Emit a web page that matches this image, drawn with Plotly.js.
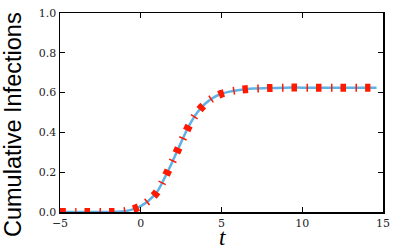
<!DOCTYPE html>
<html>
<head>
<meta charset="utf-8">
<script src="https://cdn.plot.ly/plotly-3.0.1.min.js"></script>
<style>html,body{margin:0;padding:0;background:#fff;}#chart{width:400px;height:247px;}</style>
</head>
<body>
<div id="chart"></div>
<script>
// time points (t) and cumulative infections
var tValues = [-5, -4, -3, -2, -1.5, -1, -0.5, 0, 0.5, 1, 1.5, 2, 2.5, 3, 3.5, 4, 4.5, 5, 5.5, 6, 6.5, 7, 8, 9, 10, 11, 12, 13, 14, 14.6];
var infections = [0, 0, 0, 0, 0.001, 0.004, 0.013, 0.03, 0.058, 0.10, 0.175, 0.26, 0.35, 0.435, 0.50, 0.545, 0.575, 0.594, 0.605, 0.612, 0.617, 0.62, 0.623, 0.625, 0.625, 0.625, 0.625, 0.625, 0.625, 0.625];
var xTicks = [-5, 0, 5, 10, 15];
var yTicks = [0, 0.2, 0.4, 0.6, 0.8, 1.0];
var yTickText = ['0.0', '0.2', '0.4', '0.6', '0.8', '1.0'];
var xLabel = 't';
var yLabel = 'Cumulative Infections';

var traces = [
  {x: tValues, y: infections, mode: 'lines', type: 'scatter',
   line: {color: 'rgb(95,178,230)', width: 2.5, shape: 'spline'}, hoverinfo: 'skip'},
  {x: tValues, y: infections, mode: 'lines', type: 'scatter',
   line: {color: 'rgb(255,25,0)', width: 8, shape: 'spline', dash: '5.5px,9.5px,1.5px,8px'}, hoverinfo: 'skip'}
];

var W = 400, H = 247, L = 60, R = 17, T = 13, B = 35;
var pw = W - L - R, ph = H - T - B;
var tickFont = {family: 'DejaVu Serif, serif', size: 11, color: '#222'};
var layout = {
  width: W, height: H,
  margin: {l: L, r: R, t: T, b: B, pad: 0},
  paper_bgcolor: '#fff', plot_bgcolor: '#fff',
  showlegend: false,
  xaxis: {
    range: [-5, 15], tickvals: xTicks, ticktext: xTicks.map(function(v){return v < 0 ? '\u2212' + Math.abs(v) : String(v);}),
    ticks: 'inside', ticklen: 5, tickwidth: 1, tickcolor: '#000',
    showline: true, linecolor: '#000', linewidth: 1.5, mirror: 'ticks',
    showgrid: false, zeroline: false, tickfont: tickFont
  },
  yaxis: {
    range: [0, 1], tickvals: yTicks, ticktext: yTickText,
    ticks: 'inside', ticklen: 5, tickwidth: 1, tickcolor: '#000',
    showline: true, linecolor: '#000', linewidth: 1.5, mirror: 'ticks',
    showgrid: false, zeroline: false, tickfont: tickFont
  },
  annotations: [
    {text: '<i>' + xLabel + '</i>', xref: 'paper', yref: 'paper',
     x: (222 - L) / pw, y: (H - B - 238) / ph, xanchor: 'center', yanchor: 'middle',
     showarrow: false, font: {family: 'Liberation Serif, serif', size: 23, color: '#000'}},
    {text: yLabel, xref: 'paper', yref: 'paper', textangle: -90,
     x: (13 - L) / pw, y: (H - B - 125) / ph, xanchor: 'center', yanchor: 'middle',
     showarrow: false, font: {family: 'Liberation Sans, Arial, sans-serif', size: 23.5, color: '#000'}}
  ]
};
Plotly.newPlot('chart', traces, layout, {staticPlot: true, displayModeBar: false});
</script>
</body>
</html>
